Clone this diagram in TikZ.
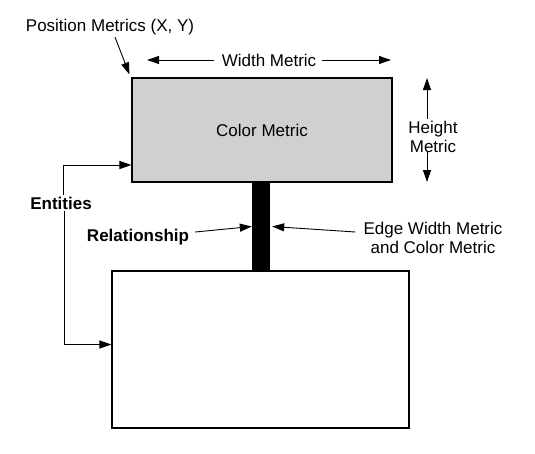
\documentclass[tikz,border=0pt]{standalone}
\usepackage{fontspec}
\setmainfont{Liberation Sans}
\usepackage{xcolor}
\usetikzlibrary{arrows.meta, positioning}

\definecolor{boxgray}{HTML}{D0D0D0}

\begin{document}
\begin{tikzpicture}[
        x=1pt, y=-1pt,
        every node/.style={font=\fontsize{17}{19}\selectfont},
        entity/.style={
            rectangle,
            draw=black,
            line width=1.1pt,
            inner sep=0pt
        },
        relbar/.style={
            rectangle,
            fill=black,
            inner sep=0pt,
            minimum width=18pt,
            minimum height=89pt
        },
        label/.style={align=center, inner sep=2pt},
        boldlabel/.style={inner sep=2pt, font=\fontsize{17}{19}\selectfont\bfseries},
        arrow/.style={-{Triangle[length=12pt, width=8pt]}, line width=0.9pt}
    ]

    \useasboundingbox (0,0) rectangle (535,453);

    \node (topent) [entity, fill=boxgray, minimum width=260pt, minimum height=104pt] at (262,130) {Color Metric};
    \node (botent) [entity, fill=white, minimum width=297pt, minimum height=157pt] at (260.5,349.5) {};
    \node (rel) [relbar] at (261,226.5) {};

    \node (pos) [label] at (110,27) {Position Metrics (X, Y)};
    \node (wid) [label] at (269,60) {Width Metric};
    \node (hgt) [label] at (433,137) {Height\\Metric};
    \node (ent) [boldlabel] at (61,203) {Entities};
    \node (rellab) [boldlabel] at (138,237) {Relationship};
    \node (edge) [label] at (433,238) {Edge Width Metric\\and Color Metric};

    \coordinate (wleft) at (147,60);
    \coordinate (wright) at (391,60);
    \coordinate (htop) at (427,78);
    \coordinate (hbot) at (427,182);

    \draw [arrow] ([xshift=5pt]pos.south) -- ([shift={(-2,-3)}]topent.north west);
    \draw [arrow] ([xshift=-6pt]wid.west) -- (wleft);
    \draw [arrow] ([xshift=4pt]wid.east) -- (wright);
    \draw [arrow] (hgt.north -| htop) -- (htop);
    \draw [arrow] ([yshift=4pt]hgt.south -| hbot) -- (hbot);
    \draw [arrow] ([xshift=2pt]ent.north) |- ([yshift=-35pt]topent.west);
    \draw [arrow] ([xshift=3pt]ent.south) |- ([yshift=5pt]botent.west);
    \draw [arrow] ([shift={(4pt,5pt)}]rellab.east) -- (rel.west);
    \draw [arrow] ([shift={(-6pt,6pt)}]edge.west) -- ([xshift=2pt]rel.east);

\end{tikzpicture}
\end{document}
